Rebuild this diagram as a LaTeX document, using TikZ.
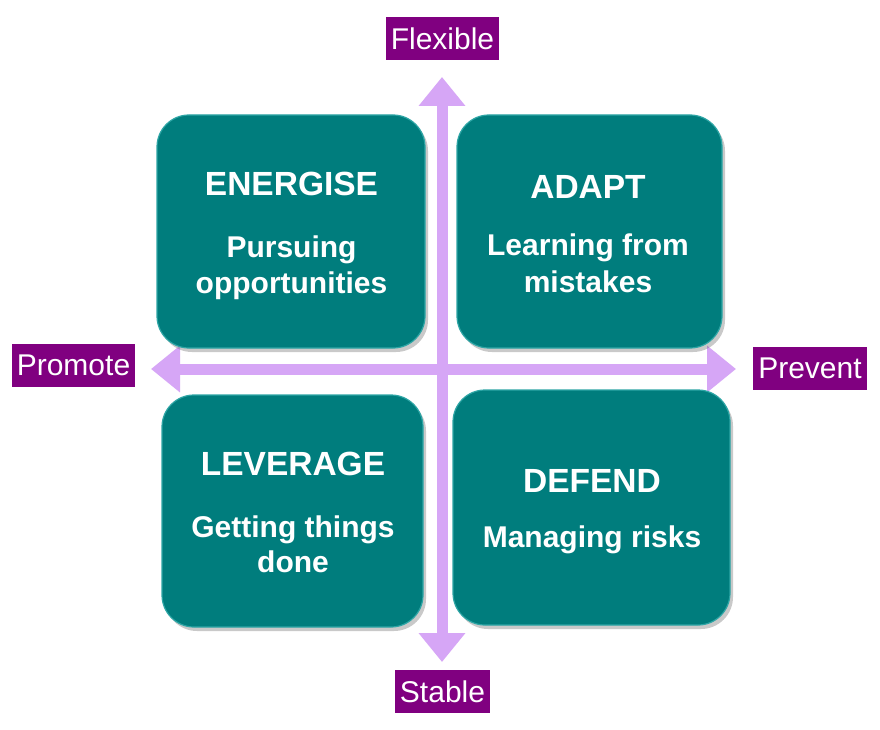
\documentclass[tikz,border=0pt]{standalone}
\usepackage{fontspec}
\setmainfont{Liberation Sans}
\usetikzlibrary{arrows.meta,shadows}
\definecolor{quadteal}{RGB}{0,125,125}
\definecolor{quadedge}{RGB}{45,165,165}
\definecolor{axisviolet}{RGB}{214,166,246}
\definecolor{labelpurple}{RGB}{128,0,128}
\tikzset{
 quad/.style={rounded corners=32pt, fill=quadteal, draw=quadedge, line width=1.2pt, inner sep=0pt,
   drop shadow={shadow xshift=3pt, shadow yshift=-4pt, opacity=0.35, fill=black!60}},
 qtitle/.style={anchor=base, text=white, font=\fontsize{33.5}{40}\selectfont\bfseries, inner sep=0pt},
 qsub/.style={anchor=base, text=white, font=\fontsize{30}{36}\selectfont\bfseries, inner sep=0pt},
 axislab/.style={fill=labelpurple, text=white, font=\fontsize{30}{36}\selectfont, inner xsep=5pt, inner ysep=0pt, minimum height=43pt},
 axisline/.style={draw=axisviolet, line width=11pt, {Triangle[width=45pt,length=29pt]}-{Triangle[width=45pt,length=29pt]}}
}
\begin{document}
\begin{tikzpicture}[x=1pt,y=-1pt]
\useasboundingbox[fill=white] (0,0) rectangle (880,730);
% axes
\coordinate (vtop) at (442,77);
\coordinate (vbot) at (442,662);
\coordinate (hleft) at (151,369);
\coordinate (hright) at (736,369);
\draw[axisline] (vtop) -- (vbot);
\draw[axisline] (hleft) -- (hright);
% quadrant boxes
\node[quad, minimum width=268pt, minimum height=233pt] (energise) at (291,231.5) {};
\node[quad, minimum width=265pt, minimum height=233pt] (adapt) at (589.5,231.5) {};
\node[quad, minimum width=261pt, minimum height=232pt] (leverage) at (292.5,511) {};
\node[quad, minimum width=277pt, minimum height=235pt] (defend) at (591.5,507.5) {};
% texts
\node[qtitle] (energiseT) at (291.5,195) {ENERGISE};
\node[qsub] (energiseA) at (291.5,257) {Pursuing};
\node[qsub] (energiseB) at (291.5,293) {opportunities};
\node[qtitle] (adaptT) at (588,198) {ADAPT};
\node[qsub] (adaptA) at (588,255) {Learning from};
\node[qsub] (adaptB) at (588,292) {mistakes};
\node[qtitle] (leverageT) at (293,475) {LEVERAGE};
\node[qsub] (leverageA) at (293,537) {Getting things};
\node[qsub] (leverageB) at (293,572) {done};
\node[qtitle] (defendT) at (592,492) {DEFEND};
\node[qsub] (defendA) at (592,547) {Managing risks};
% axis labels
\node[axislab] (flexible) at (442.5,38.5) {Flexible};
\node[axislab] (promote) at (73.5,365) {Promote};
\node[axislab] (prevent) at (810,368.5) {Prevent};
\node[axislab] (stable) at (442.5,691.5) {Stable};
\end{tikzpicture}
\end{document}
